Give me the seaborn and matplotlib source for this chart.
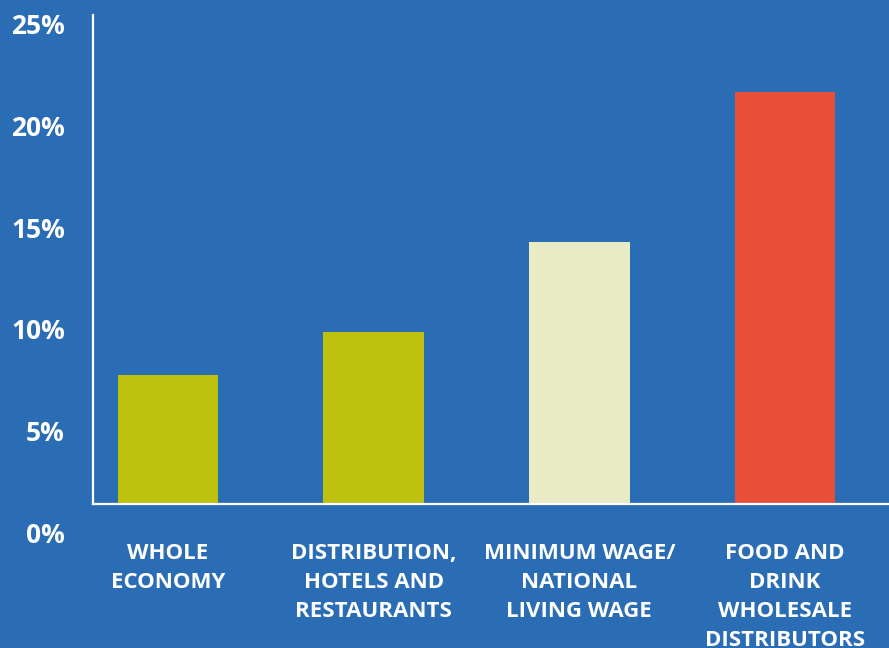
import matplotlib
matplotlib.use('Agg')
import matplotlib.pyplot as plt
import matplotlib.transforms as mtransforms
import seaborn as sns
import pandas as pd

categories = ['WHOLE\nECONOMY',
              'DISTRIBUTION,\nHOTELS AND\nRESTAURANTS',
              'MINIMUM WAGE/\nNATIONAL\nLIVING WAGE',
              'FOOD AND\nDRINK\nWHOLESALE\nDISTRIBUTORS']
values = [7.9, 10.0, 14.4, 21.8]
bar_colors = ['#bec10e', '#bec10e', '#e9ebc4', '#e84f38']
y_ticks = [0, 5, 10, 15, 20, 25]
y_labels = ['0%', '5%', '10%', '15%', '20%', '25%']

bg = '#2b6db5'

df = pd.DataFrame({'cat': categories, 'val': values})

sns.set_style('white')
plt.rcParams['font.family'] = ['Open Sans', 'DejaVu Sans']

fig = plt.figure(figsize=(8.89, 6.48), dpi=100, facecolor=bg)
ax = fig.add_axes([0.1046, 0.2222, 0.8954, 0.7547])
ax.set_facecolor(bg)

sns.barplot(data=df, x='cat', y='val', hue='cat', palette=bar_colors,
            legend=False, width=0.49, saturation=1, linewidth=0,
            edgecolor='none', ax=ax)

ax.set_xlim(-0.365, 3.506)
ax.set_ylim(1.53, 25.59)

for s in ['top', 'right']:
    ax.spines[s].set_visible(False)
for s in ['left', 'bottom']:
    ax.spines[s].set_color('white')
    ax.spines[s].set_linewidth(1.6)

ax.set_xlabel('')
ax.set_ylabel('')
ax.set_yticks([])
ax.tick_params(axis='x', length=0, pad=28)
ax.set_xticks(range(len(categories)))
ax.set_xticklabels(categories, color='white', fontsize=16, fontweight='bold',
                   linespacing=1.5, va='top')

# y labels sit on their own scale, below the bars' baseline
trans = mtransforms.blended_transform_factory(fig.transFigure, ax.transData)
for t, lab in zip(y_ticks, y_labels):
    ax.text(0.073, t, lab, transform=trans, ha='right', va='center',
            color='white', fontsize=19, fontweight='bold', clip_on=False)

fig.savefig('out.png', dpi=100, facecolor=bg)
